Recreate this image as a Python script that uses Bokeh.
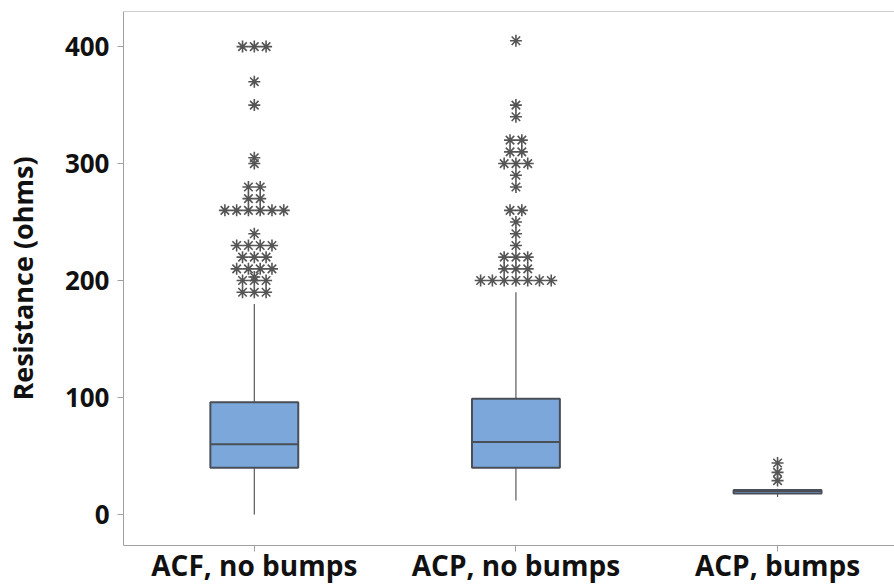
from bokeh.plotting import figure
from bokeh.models import Range1d, FixedTicker, Span
from bokeh.embed import file_html
from bokeh.resources import INLINE

groups = ["ACF, no bumps", "ACP, no bumps", "ACP, bumps"]
q1 = [40, 40, 18]
median = [60, 62, 20]
q3 = [96, 99, 21]
whisker_low = [0, 12, 15]
whisker_high = [180, 190, 22]

outliers_acf = [400, 400, 400, 370, 350, 305, 300, 280, 280, 270, 270,
                260, 260, 260, 260, 260, 260, 240, 230, 230, 230, 230,
                220, 220, 220, 210, 210, 210, 210, 203, 200, 200, 200,
                190, 190, 190]
outliers_acp = [405, 350, 340, 320, 320, 310, 310, 300, 300, 300, 290, 280,
                260, 260, 250, 240, 230, 220, 220, 220, 210, 210, 210,
                200, 200, 200, 200, 200, 200, 200]
outliers_bumps = [44, 36, 29]
outliers = [outliers_acf, outliers_acp, outliers_bumps]

FONT = "Open Sans"
BOX_W = 0.336
SPACING = 0.045
Y_TOP = 430

xs = list(range(len(groups)))

p = figure(width=894, height=586, output_backend="svg", toolbar_location=None,
           x_range=Range1d(-0.5, 2.447), y_range=Range1d(-26.5, Y_TOP),
           min_border_left=122, min_border_right=0, min_border_top=11,
           min_border_bottom=41)
p.background_fill_color = "white"
p.border_fill_color = "white"
p.outline_line_color = None
p.xgrid.visible = False
p.ygrid.visible = False

# top frame line (the right edge of the frame is cut off in the reference)
p.add_layout(Span(location=Y_TOP, dimension="width", line_color="#a0a0a0", line_width=1))

# whiskers
p.segment(x0=xs, y0=whisker_low, x1=xs, y1=q1, line_color="#555a60", line_width=1.2)
p.segment(x0=xs, y0=q3, x1=xs, y1=whisker_high, line_color="#555a60", line_width=1.2)

# boxes
p.quad(left=[x - BOX_W / 2 for x in xs], right=[x + BOX_W / 2 for x in xs],
       bottom=q1, top=q3, fill_color="#7ba7da", line_color="#4a4f57", line_width=2)
p.segment(x0=[x - BOX_W / 2 for x in xs], y0=median,
          x1=[x + BOX_W / 2 for x in xs], y1=median,
          line_color="#4a4f57", line_width=2)

# outliers, ties spread horizontally
ox, oy = [], []
for gi, vals in enumerate(outliers):
    counts = {}
    for v in vals:
        counts[v] = counts.get(v, 0) + 1
    for v, n in counts.items():
        for i in range(n):
            ox.append(gi + (i - (n - 1) / 2) * SPACING)
            oy.append(v)
p.scatter(x=ox, y=oy, marker="asterisk", size=12, line_color="#555555", line_width=1.6)

# axes
p.yaxis.ticker = FixedTicker(ticks=[0, 100, 200, 300, 400])
p.yaxis.axis_label = "Resistance (ohms)"
p.xaxis.ticker = FixedTicker(ticks=xs)
p.xaxis.major_label_overrides = {i: g for i, g in enumerate(groups)}
for ax in (p.xaxis, p.yaxis):
    ax.axis_line_color = "#a0a0a0"
    ax.major_tick_line_color = "#a0a0a0"
    ax.major_tick_out = 6
    ax.major_tick_in = 0
    ax.minor_tick_line_color = None
    ax.major_label_text_font = FONT
    ax.major_label_text_font_style = "bold"
    ax.major_label_text_color = "#111111"
    ax.axis_label_text_font = FONT
    ax.axis_label_text_font_style = "bold"
    ax.axis_label_text_font_size = "27px"
    ax.axis_label_text_color = "#111111"
p.xaxis.major_label_text_font_size = "28px"
p.yaxis.major_label_text_font_size = "26px"
p.yaxis.major_label_standoff = 8
p.xaxis.major_label_standoff = -6
p.yaxis.axis_label_standoff = 21

open("out.html", "w").write(file_html(p, INLINE))
